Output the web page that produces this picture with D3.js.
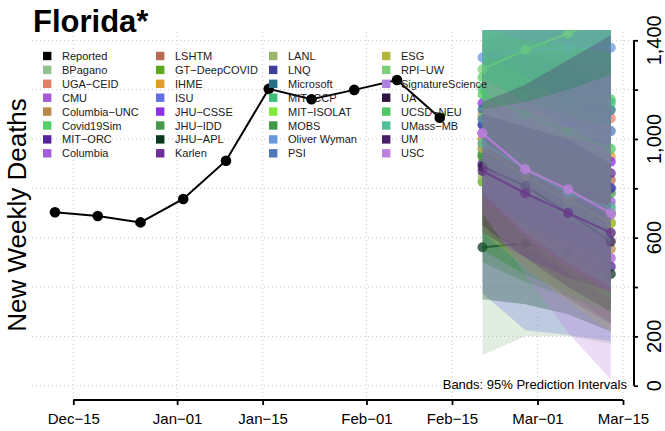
<!DOCTYPE html>
<html><head><meta charset="utf-8">
<script src="https://cdn.jsdelivr.net/npm/d3@7"></script>
<style>body{margin:0;background:#fff}svg{display:block}text{font-family:"Liberation Sans",Arial,Helvetica,sans-serif}</style>
</head><body><svg id="c" width="665" height="431"></svg>
<script>
// ---- data ----
const reportedDates = ["2020-12-12","2020-12-19","2020-12-26","2021-01-02","2021-01-09","2021-01-16","2021-01-23","2021-01-30","2021-02-06","2021-02-13"];
const reportedValues = [703, 688, 662, 757, 912, 1203, 1161, 1199, 1239, 1086];
const forecastDates = ["2021-02-20","2021-02-27","2021-03-06","2021-03-13"];
const xTickDates = ["2020-12-15","2021-01-01","2021-01-15","2021-02-01","2021-02-15","2021-03-01","2021-03-15"];
const xTickLabels = ["Dec\u221215","Jan\u221201","Jan\u221215","Feb\u221201","Feb\u221215","Mar\u221201","Mar\u221215"];
const yTicks = [0,200,400,600,800,1000,1200,1400];
const yTickLabels = ["0","200","","600","","1,000","","1,400"];
const modelNames = ["BPagano","UGA\u2212CEID","CMU","Columbia\u2212UNC","Covid19Sim","MIT\u2212ORC","Columbia",
  "LSHTM","GT\u2212DeepCOVID","IHME","ISU","JHU\u2212CSSE","JHU\u2212IDD","JHU\u2212APL","Karlen",
  "LANL","LNQ","Microsoft","MIT\u2212CCP","MIT\u2212ISOLAT","MOBS","Oliver Wyman","PSI",
  "ESG","RPI\u2212UW","SignatureScience","UA","UCSD\u2212NEU","UMass\u2212MB","UM","USC"];
const modelColors = ["#93c08f","#e2806a","#a65bd6","#b8894a","#52d06a","#55239a","#a25fd9",
  "#b96b52","#5ea81e","#e09c2e","#6070e0","#8c30e5","#449a4a","#0a3a1e","#6a2f98",
  "#9cb66a","#3d3f9e","#2a6f88","#3dbf78","#7fea3a","#3f9a48","#6899e0","#4f78b8",
  "#b4b83a","#7ccf7c","#b080e0","#2e1440","#50c860","#50bf9c","#4a1f6a","#c080e0"];
const modelPoint = [
  [1000, 880, 800, 726],[1097,1095,1090,1084],[960, 800, 650, 517],[930, 780, 660, 554],
  [1250,1220,1190,1161],[900, 740, 600, 482],[1023, 920, 830, 746],[980, 920, 870, 834],
  [827, 780, 740, 700],[1000, 980, 950, 928],[1060, 960, 880, 800],[1145,1050, 980, 908],
  [928, 880, 830, 780],[561, 577, 538, 453],[1023, 945, 890, 861],[850, 780, 720, 660],
  [1057, 980, 890, 800],[1120,1120,1118,1118],[1205,1180,1160,1147],[1085, 900, 760, 659],
  [940, 860, 780, 700],[1330,1361,1368,1370],[1080,1075,1063,1032],[962, 850, 750, 660],
  [1283,1361,1428,1500],[1023, 870, 780, 692],[888, 809, 701, 584],[1180,1100,1030, 960],
  [983, 880, 780, 720],[870, 780, 700, 620],[1023, 877, 796, 699]];
const modelLower = [
  [124, 200, 200, 170],[850, 780, 720, 650],[700, 520, 380, 250],[650, 480, 360, 260],
  [950, 850, 780, 700],[650, 480, 350, 250],[750, 600, 480, 380],[700, 600, 520, 450],
  [550, 450, 380, 320],[800, 760, 720, 680],[375, 225, 205, 180],[850, 700, 580, 480],
  [500, 420, 360, 300],[350, 330, 290, 220],[850, 720, 620, 540],[650, 550, 470, 400],
  [780, 650, 520, 420],[900, 850, 800, 750],[950, 880, 820, 760],[800, 600, 450, 350],
  [550, 450, 380, 300],[1050,1000, 950, 900],[750, 650, 580, 500],[620, 480, 340, 220],
  [1000,1000,1000,1000],[780, 600, 480, 380],[650, 520, 400, 300],[900, 780, 680, 580],
  [780, 620, 500, 400],[620, 520, 440, 380],[700, 450, 215, 25]];
const modelUpper = [
  [1300,1250,1200,1150],[1350,1420,1480,1550],[1250,1150,1050, 950],[1250,1150,1050, 950],
  [1550,1600,1650,1700],[1150,1050, 950, 850],[1350,1350,1350,1350],[1300,1300,1300,1300],
  [1150,1150,1150,1150],[1150,1170,1190,1210],[1350,1300,1250,1200],[1450,1450,1450,1450],
  [1500,1550,1600,1650],[800, 850, 850, 800],[1200,1180,1170,1170],[1050,1000, 960, 930],
  [1350,1350,1300,1250],[1400,1450,1500,1550],[1500,1550,1600,1650],[1350,1250,1150,1050],
  [1350,1300,1250,1200],[1600,1700,1800,1900],[1500,1600,1700,1800],[1250,1150,1050, 950],
  [1600,1750,1900,2050],[1250,1150,1100,1050],[1100,1050,1000, 900],[1450,1400,1380,1350],
  [1500,1550,1600,1650],[1150,1220,1320,1420],[1120,1150,1200,1260]];

// ---- layout ----
const svg = d3.select("#c");
const P = {l:32, r:634, t:30, b:400};
const pd = d3.utcParse("%Y-%m-%d");
const x = d3.scaleUtc().domain([pd("2020-12-15"), pd("2021-03-15")]).range([73.3, 623]);
const y = d3.scaleLinear().domain([0,1400]).range([385.7, 40.3]);

svg.append("defs").append("clipPath").attr("id","pc").append("rect")
  .attr("x",P.l).attr("y",P.t).attr("width",P.r-P.l).attr("height",P.b-P.t);

// grid
const grid = svg.append("g").attr("stroke","#c4c4c4").attr("stroke-dasharray","1,3").attr("stroke-width",1);
yTicks.forEach(v=>grid.append("line").attr("x1",P.l).attr("x2",P.r).attr("y1",y(v)).attr("y2",y(v)));
xTickDates.forEach(d=>grid.append("line").attr("x1",x(pd(d))).attr("x2",x(pd(d))).attr("y1",P.t+2).attr("y2",P.b));

// forecasts
const fc = svg.append("g").attr("clip-path","url(#pc)");
const fd = forecastDates.map(pd);
const area = d3.area().x((d,i)=>x(fd[i])).y0(d=>y(d[0])).y1(d=>y(d[1]));
const line = d3.line().x((d,i)=>x(fd[i])).y(d=>y(d));
modelNames.forEach((n,k)=>{
  const band = modelLower[k].map((lo,i)=>[lo, modelUpper[k][i]]);
  fc.append("path").attr("d",area(band)).attr("fill",modelColors[k]).attr("fill-opacity",0.28);
  fc.append("path").attr("d",line(modelPoint[k])).attr("fill","none").attr("stroke",modelColors[k]).attr("stroke-width",2.2).attr("stroke-opacity",0.75);
  modelPoint[k].forEach((v,i)=>fc.append("circle").attr("cx",x(fd[i])).attr("cy",y(v)).attr("r",5).attr("fill",modelColors[k]).attr("fill-opacity",0.75));
});

// reported
const rd = reportedDates.map(pd);
svg.append("path").attr("d",d3.line().x((d,i)=>x(rd[i])).y(d=>y(d))(reportedValues))
  .attr("fill","none").attr("stroke","#000").attr("stroke-width",2);
reportedValues.forEach((v,i)=>svg.append("circle").attr("cx",x(rd[i])).attr("cy",y(v)).attr("r",5.3).attr("fill","#000"));

// bottom axis
const xa = svg.append("g").attr("transform",`translate(0,${P.b})`)
  .call(d3.axisBottom(x).tickValues(xTickDates.map(pd)).tickFormat((d,i)=>xTickLabels[i]).tickSize(5).tickPadding(8));
xa.select(".domain").attr("d",`M${x(pd(xTickDates[0]))},0H${x(pd(xTickDates[6]))}`).attr("stroke-width",1.8);
xa.selectAll(".tick line").attr("stroke-width",1.8);
xa.selectAll("text").attr("font-size",15).attr("font-family","Liberation Sans, Arial, sans-serif").attr("fill","#000");

// right axis
const ya = svg.append("g").attr("transform",`translate(${P.r},0)`)
  .call(d3.axisRight(y).tickValues(yTicks).tickFormat(()=>"").tickSize(4));
ya.select(".domain").attr("d",`M0,${y(0)}V${y(1400)}`).attr("stroke-width",2);
ya.selectAll(".tick line").attr("stroke-width",1.8);
yTicks.forEach((v,i)=>{ if(yTickLabels[i]) svg.append("text")
  .attr("transform",`translate(661,${y(v)}) rotate(-90)`).attr("text-anchor","middle")
  .attr("font-size",20).text(yTickLabels[i]); });

// titles
svg.append("text").attr("x",33).attr("y",32).attr("font-size",31).attr("font-weight","bold").text("Florida*");
svg.append("text").attr("transform","translate(26,215) rotate(-90)").attr("text-anchor","middle")
  .attr("font-size",26).text("New Weekly Deaths");

// bands note
svg.append("text").attr("x",627).attr("y",389).attr("text-anchor","end").attr("font-size",13).text("Bands: 95% Prediction Intervals");

// legend
const legNames = ["Reported"].concat(modelNames);
const legColors = ["#000"].concat(modelColors);
const lg = svg.append("g");
legNames.forEach((n,i)=>{
  const c = Math.floor(i/8), r = i%8;
  const lx = 43 + c*113, ly = 56 + r*13.9;
  lg.append("rect").attr("x",lx).attr("y",ly-4.2).attr("width",8.4).attr("height",8.4).attr("fill",legColors[i]);
  lg.append("text").attr("x",lx+19).attr("y",ly+4).attr("font-size",11).attr("fill","#1a1a1a").text(n);
});
</script></body></html>
